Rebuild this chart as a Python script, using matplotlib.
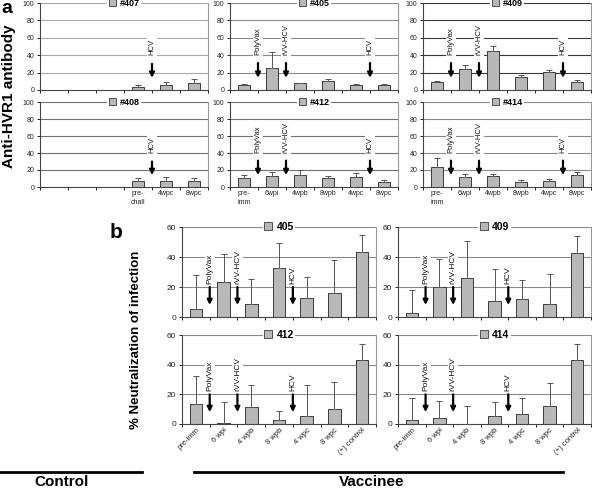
import matplotlib.pyplot as plt
from matplotlib.patches import Patch

plt.rcParams["font.family"] = ["Liberation Sans", "DejaVu Sans"]

# ---- panel a: anti-HVR1 antibody ----
a_cats_vacc = ["pre-\nimm", "6wpi", "4wpb", "8wpb", "4wpc", "8wpc"]
a_cats_ctrl = ["", "", "", "pre-\nchall", "4wpc", "8wpc"]

ctrl_407 = [3.8, 5.8, 7.7]
ctrl_407_err = [2.0, 3.8, 5.0]
ctrl_408 = [6.6, 7.4, 6.6]
ctrl_408_err = [4.0, 4.2, 4.0]

vac_405 = [5.8, 25.0, 7.7, 10.4, 5.8, 5.8]
vac_405_err = [1.1, 19.0, 0.8, 1.9, 0.7, 1.1]
vac_412 = [10.6, 12.5, 14.5, 10.6, 11.6, 5.4]
vac_412_err = [3.9, 4.7, 5.5, 1.9, 5.4, 3.2]
vac_409 = [9.6, 23.8, 45.0, 15.4, 21.0, 8.8]
vac_409_err = [0.8, 5.0, 6.0, 1.9, 2.0, 2.7]
vac_414 = [23.0, 11.4, 12.9, 6.3, 7.5, 14.1]
vac_414_err = [10.7, 3.9, 2.0, 1.9, 1.9, 3.9]

# ---- panel b: % neutralization ----
b_cats = ["pre-imm", "6 wpi", "4 wpb", "8 wpb", "4 wpc", "8 wpc", "(+) control"]
neu_405 = [5.1, 23.3, 8.9, 32.9, 12.9, 16.2, 43.3]
neu_405_err = [22.7, 18.9, 16.7, 16.7, 13.8, 22.0, 11.2]
neu_409 = [2.9, 20.0, 26.0, 10.7, 12.2, 8.9, 42.9]
neu_409_err = [15.3, 18.4, 24.4, 21.1, 12.7, 20.0, 11.3]
neu_412 = [13.3, 0.5, 11.3, 2.9, 5.6, 10.0, 42.9]
neu_412_err = [19.1, 14.2, 15.0, 6.0, 20.4, 18.0, 11.1]
neu_414 = [2.4, 4.0, 0.0, 5.6, 6.7, 12.2, 42.9]
neu_414_err = [14.9, 11.6, 12.2, 9.5, 11.1, 15.6, 11.1]

BAR = "#b8b8b8"
EDGE = "#3a3a3a"
W, H = 592, 488


def px_axes(fig, x0, x1, ytop, ybot):
    return fig.add_axes([x0 / W, 1 - ybot / H, (x1 - x0) / W, (ybot - ytop) / H])


def style_axes(ax, ncat, ymax, ystep, tick_fs, grid_color):
    ax.set_xlim(0, ncat)
    ax.set_ylim(0, ymax)
    ax.set_yticks(range(0, ymax + 1, ystep))
    ax.set_xticks(range(ncat + 1))
    ax.set_xticklabels([])
    ax.tick_params(axis="both", which="major", length=2.5, width=0.7,
                   labelsize=tick_fs, colors="#222222", pad=1.5)
    ax.tick_params(axis="x", which="minor", length=0, labelsize=tick_fs,
                   colors="#222222", pad=2)
    for y in range(ystep, ymax + 1, ystep):
        ax.axhline(y, color=grid_color, lw=0.8, zorder=0)
    ax.spines["top"].set_visible(False)
    ax.spines["right"].set_color("#9a9a9a")
    ax.spines["left"].set_color("#444444")
    ax.spines["bottom"].set_color("#444444")
    for s in ax.spines.values():
        s.set_linewidth(0.8)


def add_key(ax, name, fs):
    handle = Patch(facecolor=BAR, edgecolor=EDGE, linewidth=0.6)
    leg = ax.legend([handle], [name], loc="center", bbox_to_anchor=(0.5, 1.0),
                    prop={"weight": "bold", "size": fs},
                    handlelength=0.8, handleheight=0.8, handletextpad=0.4,
                    borderpad=0.15, borderaxespad=0, fancybox=False,
                    framealpha=1, edgecolor="none")
    leg.set_zorder(5)


def add_event(ax, x, label, y_text, y_from, y_to, fs):
    ax.text(x, y_text, label, rotation=90, ha="center", va="bottom", fontsize=fs,
            color="#111111", zorder=4,
            bbox=dict(facecolor="white", edgecolor="none", pad=1.2))
    ax.annotate("", xy=(x, y_to), xytext=(x, y_from), zorder=4,
                arrowprops=dict(arrowstyle="-|>", color="black", lw=1.6,
                                mutation_scale=7, shrinkA=0, shrinkB=0))


def draw_bars(ax, positions, vals, errs, barw=0.45):
    ax.bar(positions, vals, width=barw, color=BAR, edgecolor=EDGE, linewidth=0.7,
           zorder=2)
    ax.errorbar(positions, vals, yerr=[[0] * len(errs), errs], fmt="none",
                ecolor="#555555", elinewidth=0.7, capsize=2, capthick=0.7, zorder=3)


fig = plt.figure(figsize=(W / 100, H / 100), dpi=100)

a_cols = [(40, 208), (230, 398), (423, 591)]
a_rows = [(3, 90), (102, 187)]
a_panels = [
    (0, 0, "#407", ctrl_407, ctrl_407_err, True, "#a8a8a8"),
    (0, 1, "#408", ctrl_408, ctrl_408_err, True, "#707070"),
    (1, 0, "#405", vac_405, vac_405_err, False, "#8a8a8a"),
    (1, 1, "#412", vac_412, vac_412_err, False, "#707070"),
    (2, 0, "#409", vac_409, vac_409_err, False, "#3a3a3a"),
    (2, 1, "#414", vac_414, vac_414_err, False, "#8a8a8a"),
]
for col, row, name, vals, errs, is_ctrl, gcol in a_panels:
    x0, x1 = a_cols[col]
    yt, yb = a_rows[row]
    ax = px_axes(fig, x0, x1, yt, yb)
    style_axes(ax, 6, 100, 20, 5, gcol)
    if is_ctrl:
        pos = [3.5, 4.5, 5.5]
        cats = a_cats_ctrl
        add_event(ax, 4, "HCV", 40, 30, 14, 5.5)
    else:
        pos = [i + 0.5 for i in range(6)]
        cats = a_cats_vacc
        add_event(ax, 1, "PolyVax", 40, 31, 14, 5.5)
        add_event(ax, 2, "rVV-HCV", 40, 31, 14, 5.5)
        add_event(ax, 5, "HCV", 40, 31, 14, 5.5)
    draw_bars(ax, pos, vals, errs)
    ax.set_xticks([i + 0.5 for i in range(6)], minor=True)
    if row == 1:
        ax.set_xticklabels(cats, minor=True, linespacing=1.4)
    add_key(ax, name, 6.5)

b_cols = [(182, 376), (398, 591)]
b_rows = [(227, 317), (335, 424)]
b_panels = [
    (0, 0, "405", neu_405, neu_405_err),
    (1, 0, "409", neu_409, neu_409_err),
    (0, 1, "412", neu_412, neu_412_err),
    (1, 1, "414", neu_414, neu_414_err),
]
for col, row, name, vals, errs in b_panels:
    x0, x1 = b_cols[col]
    yt, yb = b_rows[row]
    ax = px_axes(fig, x0, x1, yt, yb)
    style_axes(ax, 7, 60, 20, 6, "#8a8a8a")
    add_event(ax, 1, "PolyVax", 22, 20, 8, 6)
    add_event(ax, 2, "rVV-HCV", 22, 20, 8, 6)
    add_event(ax, 4, "HCV", 22, 20, 8, 6)
    draw_bars(ax, [i + 0.5 for i in range(7)], vals, errs)
    ax.set_xticks([i + 0.5 for i in range(7)], minor=True)
    if row == 1:
        ax.set_xticklabels(b_cats, minor=True, rotation=45, ha="right",
                           rotation_mode="anchor", fontsize=5.5)
    add_key(ax, name, 7.5)

fig.text(1 / W, 1 - 0 / H, "a", fontsize=14, fontweight="bold", va="top", ha="left")
fig.text(116 / W, 1 - 232 / H, "b", fontsize=15, fontweight="bold", va="center",
         ha="center")
fig.text(9 / W, 1 - 96 / H, "Anti-HVR1 antibody", rotation=90, fontsize=11,
         fontweight="bold", va="center", ha="center")
fig.text(136 / W, 1 - 340 / H, "% Neutralization of infection", rotation=90,
         fontsize=9.5, fontweight="bold", va="center", ha="center")

fig.add_artist(plt.Line2D([0, 142 / W], [1 - 472 / H] * 2, color="black", lw=2))
fig.add_artist(plt.Line2D([194 / W, 563 / W], [1 - 472 / H] * 2, color="black", lw=2))
fig.text(62 / W, 1 - 482 / H, "Control", fontsize=11, fontweight="bold",
         va="center", ha="center")
fig.text(372 / W, 1 - 482 / H, "Vaccinee", fontsize=11, fontweight="bold",
         va="center", ha="center")

fig.savefig("out.png", dpi=100)
